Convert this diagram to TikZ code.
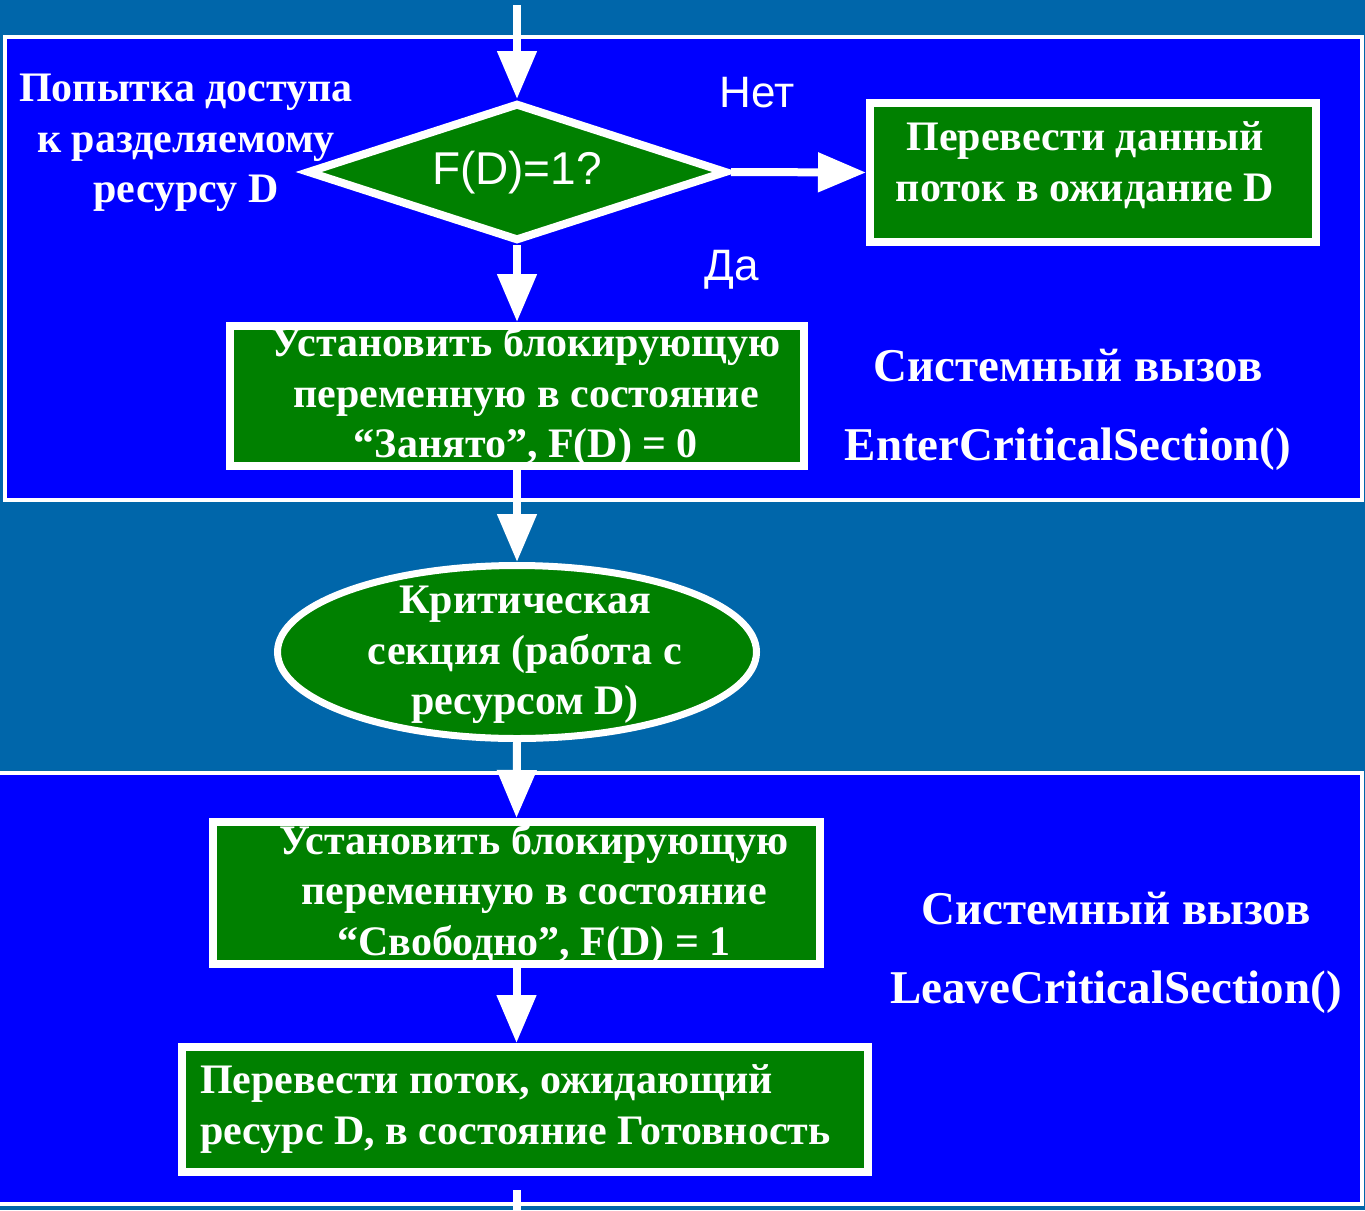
\documentclass[tikz,border=0pt]{standalone}
\usepackage{fontspec}
\setmainfont{Liberation Serif}
\newfontfamily\arialfont{Liberation Sans}
\usetikzlibrary{arrows.meta,shapes.geometric}

\definecolor{bgteal}{RGB}{0,102,170}
\definecolor{callblue}{RGB}{0,0,255}
\definecolor{stepgreen}{RGB}{0,128,0}

\tikzset{
  callarea/.style = {draw = white, line width = 4pt, fill = callblue},
  stepbox/.style = {draw = white, line width = 8pt, fill = stepgreen, inner sep = 0pt},
  steptext/.style = {text = white, inner sep = 0pt, align = center,
    font = \fontsize{42}{50.5}\selectfont\bfseries},
  calltext/.style = {text = white, inner sep = 0pt,
    font = \fontsize{47}{50}\selectfont\bfseries},
  answer/.style = {text = white, inner sep = 0pt, font = \arialfont\fontsize{44}{50}\selectfont},
  flow/.style = {draw = white, line width = 8pt, -{Triangle[length = 48pt, width = 38pt]}},
}

\begin{document}
\begin{tikzpicture}[x = 1pt, y = -1pt]
        % background
        \useasboundingbox (0,0) rectangle (1365,1210);
        \path[fill = bgteal] (0,0) rectangle (1365,1210);
        \path[callarea] (5,37) rectangle (1362,500);
        \path[callarea] (-5,773) rectangle (1362,1204);
        % points
        \coordinate (In) at (517,5);
        \coordinate (OutA) at (517,1190);
        \coordinate (OutB) at (517,1210);
        % decision
        \node[stepbox, diamond, minimum width = 420pt, minimum height = 138pt] (Test) at (517,172) {};
        \node[answer, font = \arialfont\fontsize{46}{50}\selectfont] (TestText) at (517,173) {F(D)=1?};
        \node[steptext] (Try) at (186,143) {Попытка доступа\\к разделяемому\\ресурсу D};
        \node[answer] (No) at (757,93) {Нет};
        \node[answer] (Yes) at (732,270) {Да};
        % boxes
        \node[stepbox, minimum width = 446pt, minimum height = 139pt] (Wait) at (1093,172.5) {};
        \node[steptext] (WaitText) at (1085,165) {Перевести данный\\поток в ожидание D};
        \node[stepbox, minimum width = 574pt, minimum height = 140pt] (Lock) at (517,396) {};
        \node[steptext] (LockText) at (526,396.5) {Установить блокирующую\\переменную в состояние\\“Занято”, F(D) = 0};
        \node[stepbox, ellipse, line width = 7pt, minimum width = 479pt, minimum height = 173pt] (Crit) at (517,652) {};
        \node[steptext] (CritText) at (525,655) {Критическая\\секция (работа с\\ресурсом D)};
        \node[stepbox, minimum width = 607pt, minimum height = 142pt] (Free) at (516.5,893) {};
        \node[steptext] (FreeText) at (534,894) {Установить блокирующую\\переменную в состояние\\“Свободно”, F(D) = 1};
        \node[stepbox, minimum width = 686pt, minimum height = 125pt] (Wake) at (525,1109.5) {};
        \node[steptext, align = left, anchor = west] (WakeText) at (200,1109) {Перевести поток, ожидающий\\ресурс D, в состояние Готовность};
        % system calls
        \node[calltext] (EnterA) at (1068,366) {Системный вызов};
        \node[calltext] (EnterB) at (1068,449) {EnterCriticalSection()};
        \node[calltext] (LeaveA) at (1116,909) {Системный вызов};
        \node[calltext] (LeaveB) at (1116,992) {LeaveCriticalSection()};
        % arrows
        \path[flow] (In) to (Test.north);
        \path[flow] (Test.east) to (Wait.west);
        \path[flow] (Test.south) to (Lock.north);
        \path[flow] (Lock.south) to (Crit.north);
        \path[flow] (Crit.south) to (Free.north);
        \path[flow] (Free.south) to (Free.south |- Wake.north);
        \path[draw = white, line width = 8pt] (OutA) to (OutB);
    \end{tikzpicture}
\end{document}
